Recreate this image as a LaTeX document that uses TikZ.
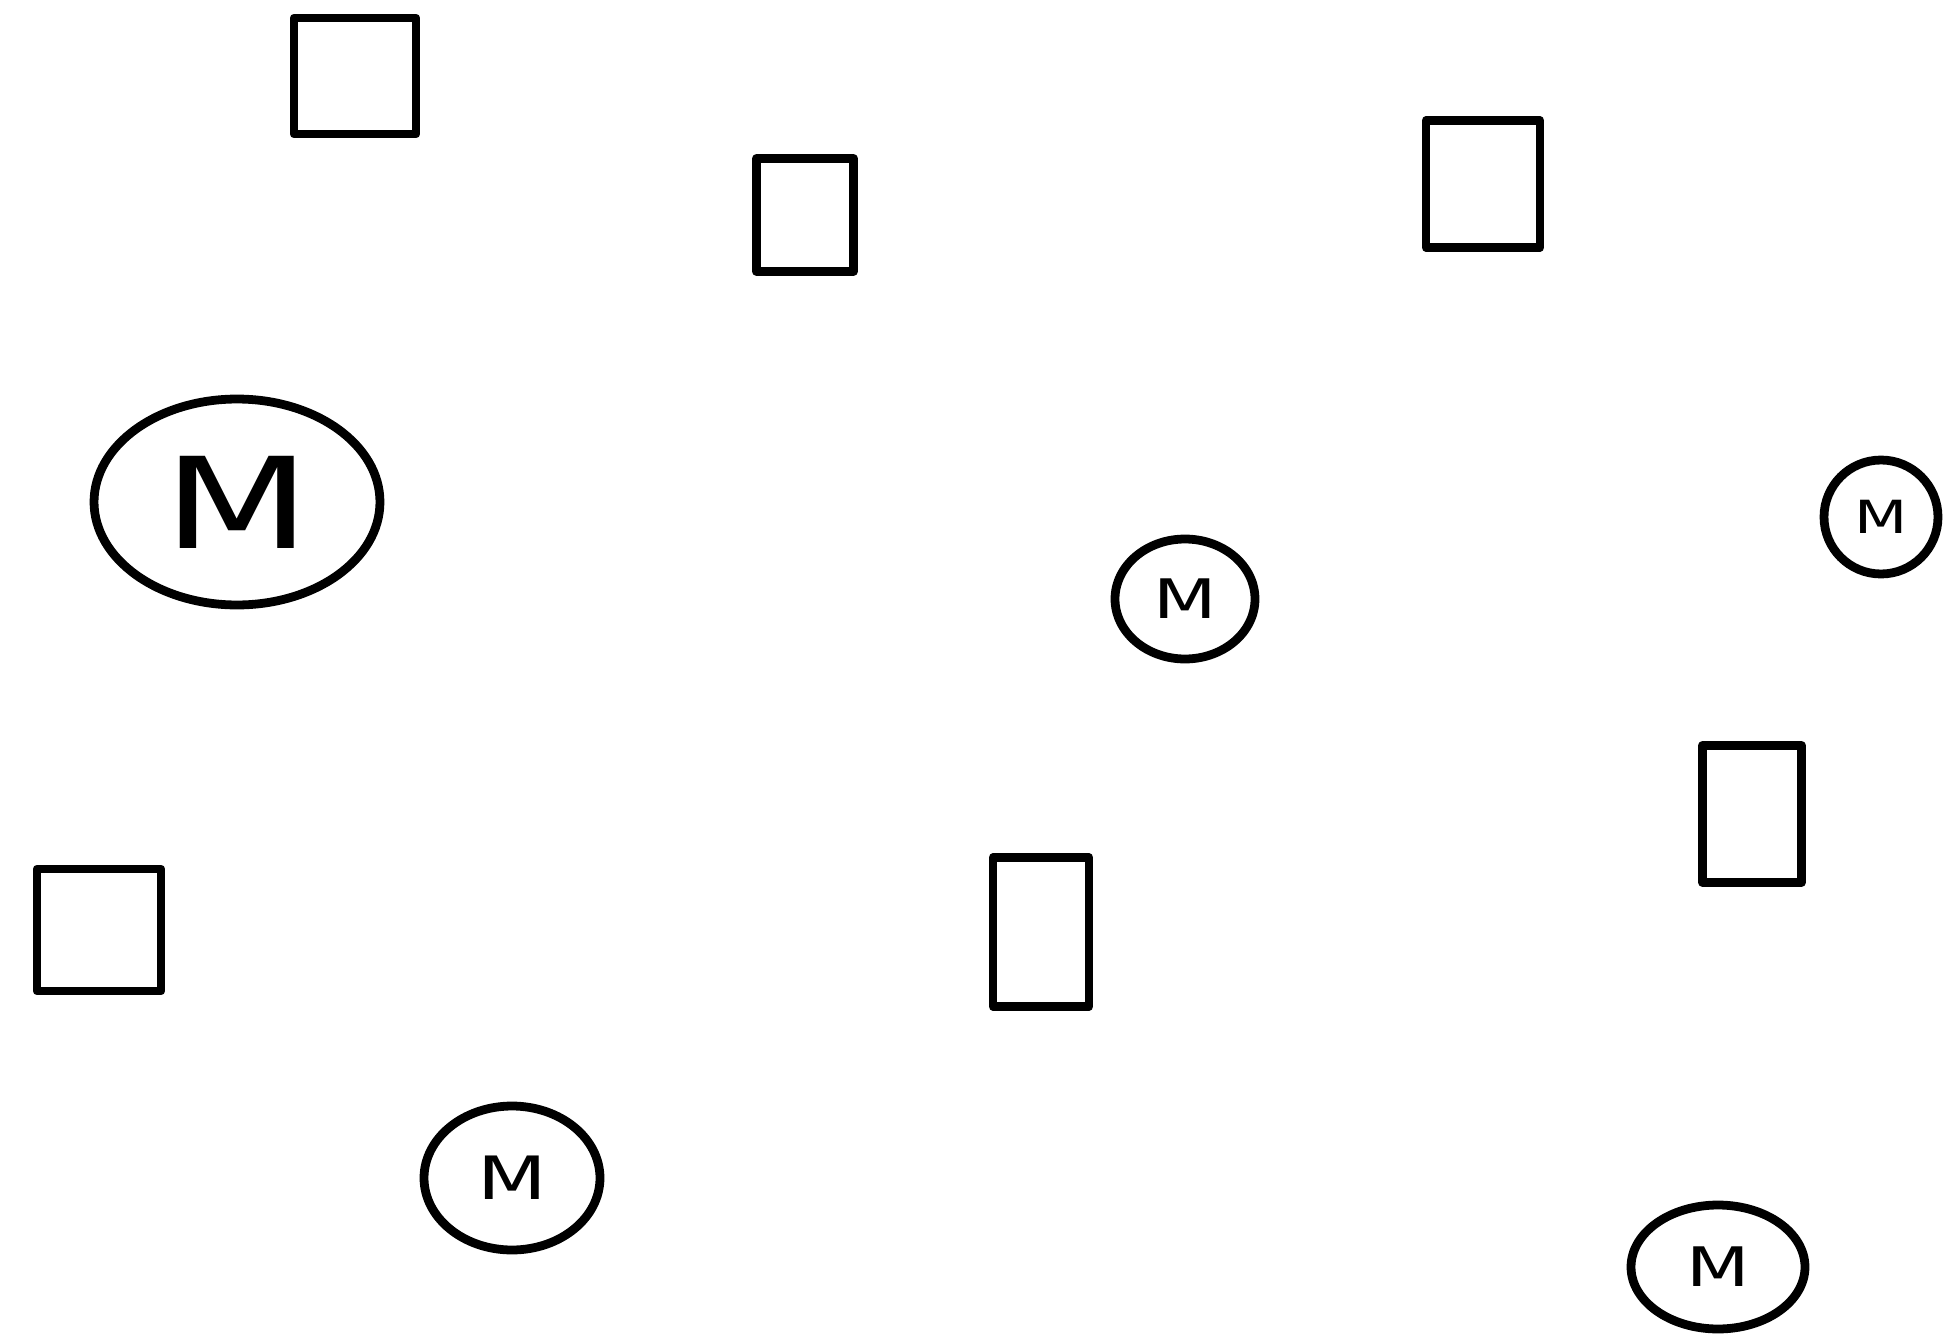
\documentclass[tikz,border=0pt]{standalone}
\usepackage{fontspec}
\usepackage{graphicx}
\setsansfont{DejaVu Sans}
\usetikzlibrary{shapes.geometric}

\newcommand{\wideM}{\scalebox{1.35}[1]{M}}

\begin{document}
\begin{tikzpicture}[
  x=0.02cm, y=-0.02cm,
  box/.style={
    draw=black, line width=5pt, line join=round,
    minimum width=#1, inner sep=0pt
  },
  mnode/.style={
    draw=black, ellipse, line width=5pt, inner sep=0pt,
    font=\sffamily
  }
]
\useasboundingbox (0,0) rectangle (1948,1335);

% Boxes
\node[box=2.44cm, minimum height=2.32cm] (boxa) at (355,76) {};
\node[box=1.94cm, minimum height=2.26cm] (boxb) at (805,215) {};
\node[box=2.28cm, minimum height=2.54cm] (boxc) at (1483,184) {};
\node[box=2.48cm, minimum height=2.44cm] (boxd) at (99,930) {};
\node[box=1.92cm, minimum height=2.98cm] (boxe) at (1041,932) {};
\node[box=1.98cm, minimum height=2.74cm] (boxf) at (1752,814) {};

% M circles
\node[mnode, minimum width=5.72cm, minimum height=4.12cm,
  font=\sffamily\fontsize{72}{72}\selectfont] (ma) at (237,502) {\wideM};
\node[mnode, minimum width=2.80cm, minimum height=2.40cm,
  font=\sffamily\fontsize{31}{31}\selectfont] (mb) at (1185,599) {\wideM};
\node[mnode, minimum width=2.28cm, minimum height=2.28cm,
  font=\sffamily\fontsize{26}{26}\selectfont] (mc) at (1881,517) {\wideM};
\node[mnode, minimum width=3.52cm, minimum height=2.88cm,
  font=\sffamily\fontsize{34}{34}\selectfont] (md) at (512,1178) {\wideM};
\node[mnode, minimum width=3.48cm, minimum height=2.48cm,
  font=\sffamily\fontsize{31}{31}\selectfont] (me) at (1718,1267) {\wideM};

\end{tikzpicture}
\end{document}
